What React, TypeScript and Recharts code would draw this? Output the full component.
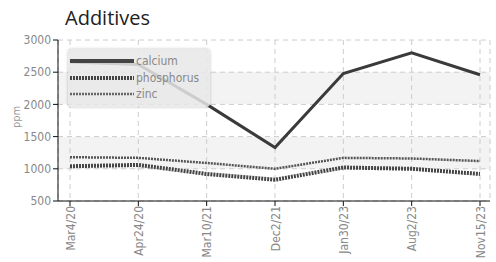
import { CartesianGrid, Line, LineChart, XAxis, YAxis } from 'recharts'

const dates = ['Mar4/20', 'Apr24/20', 'Mar10/21', 'Dec2/21', 'Jan30/23', 'Aug2/23', 'Nov15/23']
const calcium = [2660, 2620, 2000, 1330, 2480, 2800, 2460]
const phosphorus = [1040, 1060, 920, 830, 1020, 1000, 920]
const zinc = [1180, 1170, 1090, 1000, 1170, 1160, 1120]
const yTicks = [500, 1000, 1500, 2000, 2500, 3000]

const data = dates.map((d, i) => ({
  date: d,
  calcium: calcium[i],
  phosphorus: phosphorus[i],
  zinc: zinc[i],
}))

const narrow = '"DejaVu Sans Condensed", "Liberation Sans Narrow", Roboto, sans-serif'

const legendItems = [
  { name: 'calcium', color: '#444', width: 4, dash: undefined as string | undefined },
  { name: 'phosphorus', color: '#444', width: 4, dash: '2 1' },
  { name: 'zinc', color: '#666', width: 2.5, dash: '2 1' },
]

function LegendBox() {
  return (
    <div
      style={{
        position: 'absolute',
        left: 68,
        top: 49,
        background: 'rgba(232,232,232,0.85)',
        borderRadius: 4,
        boxShadow: '0 0 3px rgba(0,0,0,0.25)',
        width: 142,
        height: 58,
        paddingTop: 4,
        boxSizing: 'border-box',
      }}
    >
      {legendItems.map((item) => (
        <div key={item.name} style={{ display: 'flex', alignItems: 'center', height: 16.5 }}>
          <svg width={66} height={8} style={{ marginLeft: 2 }}>
            <line
              x1={0}
              y1={4}
              x2={64}
              y2={4}
              stroke={item.color}
              strokeWidth={item.width}
              strokeDasharray={item.dash}
            />
          </svg>
          <span style={{ fontFamily: narrow, fontSize: 12, color: '#888', lineHeight: '14px' }}>{item.name}</span>
        </div>
      ))}
    </div>
  )
}

export default function App() {
  return (
    <div style={{ position: 'absolute', left: 0, top: 0, width: 496, height: 262, background: '#fff' }}>
      <div
        style={{
          position: 'absolute',
          left: 65,
          top: 8,
          fontFamily: '"Open Sans", sans-serif',
          fontSize: 20,
          lineHeight: '20px',
          color: '#222',
        }}
      >
        Additives
      </div>
      <div
        style={{
          position: 'absolute',
          left: 16,
          top: 117,
          transform: 'translate(-50%, -50%) rotate(-90deg)',
          fontFamily: narrow,
          fontSize: 11,
          color: '#999',
          whiteSpace: 'nowrap',
        }}
      >
        ppm
      </div>
      <LineChart
        width={496}
        height={262}
        data={data}
        margin={{ top: 40, right: 6, left: 18, bottom: 0 }}
      >
        <CartesianGrid
          stroke="#ccc"
          strokeDasharray="5 4"
          horizontalFill={['#ffffff', '#f3f3f3']}
          fillOpacity={1}
        />
        <XAxis
          dataKey="date"
          padding={{ left: 12, right: 10 }}
          stroke="#111"
          height={61}
          interval={0}
          tickSize={5}
          tick={{ fontSize: 12, fill: '#888', fontFamily: narrow, angle: -90, textAnchor: 'end', dx: -4, dy: -2 }}
        />
        <YAxis
          domain={[500, 3000]}
          ticks={yTicks}
          stroke="#111"
          width={40}
          tickSize={5}
          tick={{ fontSize: 12, fill: '#888', fontFamily: narrow }}
        />
        <Line
          dataKey="calcium"
          stroke="#3a3a3a"
          strokeWidth={3}
          dot={false}
          isAnimationActive={false}
        />
        <Line
          dataKey="phosphorus"
          stroke="#444"
          strokeWidth={4}
          strokeDasharray="2 1"
          dot={false}
          isAnimationActive={false}
        />
        <Line
          dataKey="zinc"
          stroke="#555"
          strokeWidth={2.5}
          strokeDasharray="2 1"
          dot={false}
          isAnimationActive={false}
        />
      </LineChart>
      <LegendBox />
    </div>
  )
}
